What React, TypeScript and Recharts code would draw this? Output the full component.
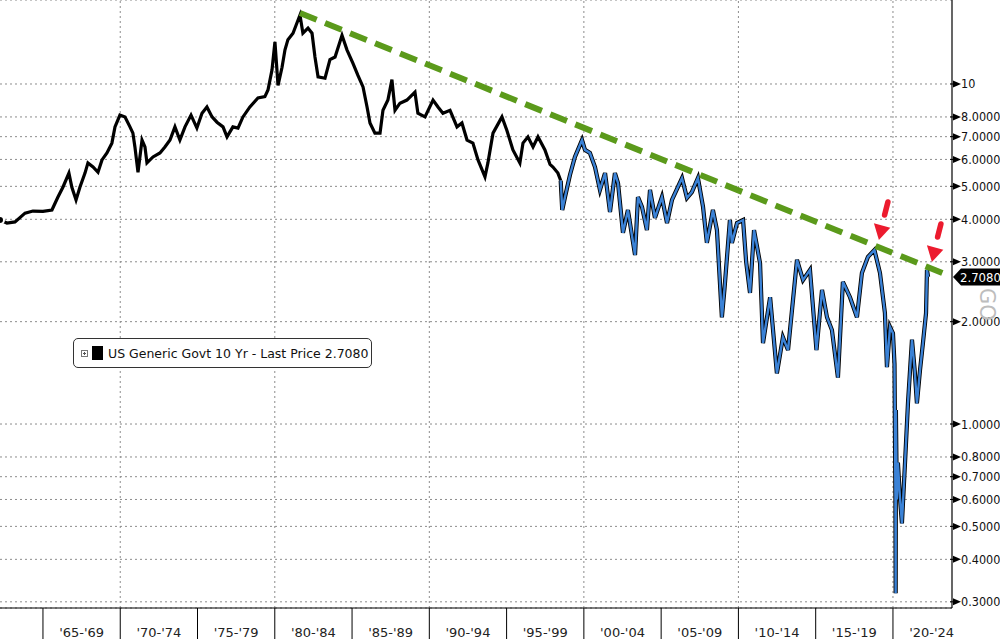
import React from 'react';
import { LineChart, Line, XAxis, YAxis, CartesianGrid, ReferenceLine, ReferenceDot, Legend } from 'recharts';

const years = [
  1962.22, 1962.67, 1963.19, 1963.84, 1964.35, 1965.0, 1965.58, 1965.97, 1966.29, 1966.68,
  1966.87, 1967.14, 1967.39, 1967.72, 1967.91, 1968.24, 1968.56, 1968.82, 1969.14, 1969.46,
  1969.66, 1969.98, 1970.31, 1970.63, 1970.82, 1970.95, 1971.15, 1971.41, 1971.6, 1971.73,
  1972.12, 1972.57, 1972.89, 1973.22, 1973.54, 1973.86, 1974.19, 1974.58, 1974.96, 1975.29,
  1975.61, 1975.94, 1976.26, 1976.65, 1976.91, 1977.29, 1977.62, 1977.94, 1978.39, 1978.91,
  1979.36, 1979.56, 1979.82, 1980.01, 1980.21, 1980.47, 1980.66, 1980.85, 1981.18, 1981.63,
  1981.82, 1982.15, 1982.41, 1982.6, 1982.8, 1983.25, 1983.57, 1983.9, 1984.35, 1984.67,
  1985.06, 1985.38, 1985.71, 1985.97, 1986.16, 1986.48, 1986.81, 1987.0, 1987.32, 1987.58,
  1987.78, 1988.1, 1988.55, 1989.07, 1989.26, 1989.72, 1990.24, 1990.56, 1990.88, 1991.34,
  1991.79, 1992.11, 1992.44, 1992.82, 1993.15, 1993.6, 1993.79, 1994.12, 1994.7, 1995.02,
  1995.41, 1995.86, 1996.06, 1996.38, 1996.71, 1997.03, 1997.48, 1997.81, 1998.0, 1998.32,
  1998.5, 1998.6, 1998.78, 1999.1, 1999.42, 1999.88, 2000.07, 2000.39, 2000.72, 2001.04,
  2001.37, 2001.69, 2002.01, 2002.21, 2002.53, 2002.85, 2003.31, 2003.5, 2003.76, 2004.08,
  2004.28, 2004.6, 2005.05, 2005.38, 2005.7, 2006.35, 2006.67, 2006.99, 2007.38, 2007.71,
  2007.96, 2008.35, 2008.61, 2008.93, 2009.1, 2009.45, 2009.58, 2009.91, 2010.3, 2010.5,
  2010.75, 2011.01, 2011.4, 2011.59, 2012.05, 2012.49, 2012.88, 2013.21, 2013.79, 2014.18,
  2014.63, 2015.05, 2015.41, 2015.73, 2016.05, 2016.44, 2016.76, 2017.22, 2017.67, 2017.99,
  2018.38, 2018.8, 2019.16, 2019.48, 2019.61, 2019.81, 2020.0, 2020.1, 2020.16, 2020.175,
  2020.19, 2020.25, 2020.32, 2020.45, 2020.58, 2020.78, 2020.97, 2021.23, 2021.4, 2021.55,
  2021.75, 2021.94, 2022.14, 2022.2, 2022.27,
];

const yields = [
  3.98, 3.9, 3.93, 4.17, 4.23, 4.22, 4.26, 4.65, 4.97, 5.47,
  4.97, 4.56, 4.97, 5.47, 5.86, 5.7, 5.5, 5.98, 6.27, 6.7,
  7.48, 8.1, 8.0, 7.48, 7.17, 6.53, 5.5, 6.84, 6.53, 5.86,
  6.1, 6.27, 6.53, 6.84, 7.48, 6.84, 7.48, 8.1, 7.42, 8.2,
  8.56, 8.0, 7.72, 7.48, 6.99, 7.48, 7.42, 8.0, 8.56, 9.1,
  9.18, 9.6, 11.0, 13.3, 9.9, 11.2, 12.6, 13.5, 14.1, 15.95,
  14.1, 14.6, 14.1, 12.0, 10.5, 10.4, 11.8, 12.0, 13.9, 12.6,
  11.5, 10.6, 9.8, 8.56, 7.68, 7.17, 7.17, 8.37, 8.97, 10.3,
  8.37, 8.78, 8.97, 9.46, 8.2, 8.0, 8.97, 8.56, 8.2, 8.37,
  7.48, 7.68, 6.84, 6.7, 5.98, 5.33, 5.86, 7.17, 8.0, 7.3,
  6.4, 5.86, 6.7, 6.99, 6.53, 6.99, 6.4, 5.8, 5.7, 5.47,
  5.2, 4.26, 4.65, 5.4, 6.1, 6.84, 6.4, 6.27, 5.7, 4.88,
  5.47, 4.2, 5.47, 5.11, 3.65, 4.26, 3.14, 4.65, 4.35, 3.72,
  4.88, 4.04, 4.65, 3.9, 4.56, 5.29, 4.62, 4.81, 5.29, 4.35,
  3.41, 4.26, 3.72, 2.06, 2.5, 3.98, 3.41, 3.9, 3.98, 3.0,
  2.43, 3.72, 2.97, 1.73, 2.36, 1.41, 1.8, 1.65, 3.04, 2.65,
  2.84, 1.65, 2.48, 2.06, 1.89, 1.37, 2.62, 2.36, 2.06, 2.78,
  3.1, 3.25, 2.78, 2.12, 1.47, 1.93, 1.85, 1.5, 0.6, 0.318,
  1.1, 0.6, 0.77, 0.61, 0.51, 0.77, 1.15, 1.77, 1.45, 1.15,
  1.44, 1.73, 2.12, 2.84, 2.708,
];

const BLUE_START = 1998.5;

const boundaryYears = [1965, 1970, 1975, 1980, 1985, 1990, 1995, 2000, 2005, 2010, 2015, 2020];
const bucketLabels = ["'65-'69", "'70-'74", "'75-'79", "'80-'84", "'85-'89", "'90-'94", "'95-'99", "'00-'04", "'05-'09", "'10-'14", "'15-'19", "'20-'24"];
const labelYears = boundaryYears.map((y) => y + 2.5);
const gridYears = [1970, 1980, 1990, 2000, 2010, 2020];
const yTicks = [0.3, 0.4, 0.5, 0.6, 0.7, 0.8, 1, 2, 3, 4, 5, 6, 7, 8, 10];

const lastPrice = 2.708;
const legendText = 'US Generic Govt 10 Yr - Last Price 2.7080';
const trendStart = { x: 1981.63, y: 16.18 };
const trendEnd = { x: 2023.25, y: 2.775 };
const arrowTips = [
  { x: 2019.09, y: 3.476 },
  { x: 2022.52, y: 2.995 },
];

const X_DOMAIN: [number, number] = [1962.22, 2023.82];
const Y_DOMAIN: [number, number] = [0.2877, 17.66];

const data = years.map((t, i) => ({
  t,
  pre: t <= BLUE_START ? yields[i] : null,
  post: t >= BLUE_START ? yields[i] : null,
}));

const xTicks = [...boundaryYears, ...labelYears].sort((a, b) => a - b);

const FONT = 'DejaVu Sans';
const NARROW = "'DejaVu Sans Condensed', 'Liberation Sans', sans-serif";

const XTick = (props: any) => {
  const { x, y, payload } = props;
  const v = payload.value;
  const bi = boundaryYears.indexOf(v);
  if (bi >= 0) {
    return <line x1={x} y1={y} x2={x} y2={y + 31} stroke="#000" strokeWidth={1} />;
  }
  const li = labelYears.indexOf(v);
  return (
    <text x={x} y={y + 29} textAnchor="middle" fontSize={13} fontFamily={FONT} fill="#222">
      {bucketLabels[li]}
    </text>
  );
};

const YTick = (props: any) => {
  const { x, y, payload } = props;
  const v = payload.value;
  return (
    <g>
      <line x1={x - 2} y1={y} x2={x + 2} y2={y} stroke="#000" strokeWidth={1} />
      <polygon points={`${x + 1},${y - 3.5} ${x + 9},${y} ${x + 1},${y + 3.5}`} fill="#000" />
      <text x={x + 9} y={y} dy="0.36em" fontSize={12.5} fontFamily={NARROW} fill="#111">
        {v === 10 ? '10' : v.toFixed(4)}
      </text>
    </g>
  );
};

const Arrow = (props: any) => {
  const { cx, cy } = props;
  const red = '#ec1b2e';
  return (
    <g>
      <line x1={cx + 9} y1={cy - 38} x2={cx + 5.7} y2={cy - 25} stroke={red} strokeWidth={5.5} strokeLinecap="round" />
      <polygon points={`${cx - 5},${cy - 16.7} ${cx + 11.4},${cy - 12.3} ${cx},${cy}`} fill={red} />
    </g>
  );
};

const PriceTag = (props: any) => {
  const { cx, cy } = props;
  const l = cx + 1;
  return (
    <g>
      <polygon
        points={`${l},${cy} ${l + 8},${cy - 8.5} ${l + 60},${cy - 8.5} ${l + 60},${cy + 8.5} ${l + 8},${cy + 8.5}`}
        fill="#000"
      />
      <text x={l + 7} y={cy} dy="0.36em" fontSize={13} fontFamily={NARROW} fill="#fff">
        {lastPrice.toFixed(4)}
      </text>
    </g>
  );
};

const LegendBox = () => (
  <div
    style={{
      boxSizing: 'border-box',
      width: 299,
      height: 30,
      border: '1px solid #333',
      borderRadius: 5,
      background: '#fff',
      display: 'flex',
      alignItems: 'center',
      fontFamily: FONT,
      fontSize: 12.5,
      color: '#111',
      paddingLeft: 7,
      whiteSpace: 'nowrap',
    }}
  >
    <svg width={7} height={7} style={{ marginRight: 4 }}>
      <rect x={0.5} y={0.5} width={6} height={6} fill="#fff" stroke="#777" strokeWidth={1} />
      <line x1={2} y1={3.5} x2={5} y2={3.5} stroke="#555" />
      <line x1={3.5} y1={2} x2={3.5} y2={5} stroke="#555" />
    </svg>
    <span style={{ display: 'inline-block', width: 11, height: 14, background: '#000', marginRight: 5 }} />
    <span>{legendText}</span>
  </div>
);

export default function App() {
  return (
    <div style={{ position: 'absolute', left: 0, top: 0, width: 1000, height: 639, background: '#fff', overflow: 'hidden' }}>
      <LineChart width={1000} height={639} data={data} margin={{ top: 0, right: 0, bottom: 0, left: 0 }}>
        <CartesianGrid vertical={false} stroke="#8c8c8c" strokeDasharray="2 3" />
        <XAxis
          dataKey="t"
          type="number"
          domain={X_DOMAIN}
          allowDataOverflow
          ticks={xTicks}
          interval={0}
          tick={<XTick />}
          tickLine={false}
          tickSize={0}
          tickMargin={0}
          height={31}
          axisLine={{ stroke: '#000', strokeWidth: 1.2 }}
        />
        <YAxis
          orientation="right"
          scale="log"
          type="number"
          domain={Y_DOMAIN}
          allowDataOverflow
          ticks={yTicks}
          interval={0}
          tick={<YTick />}
          tickLine={false}
          tickSize={0}
          tickMargin={0}
          width={48}
          axisLine={{ stroke: '#000', strokeWidth: 1.2 }}
        />
        {gridYears.map((g) => (
          <ReferenceLine key={g} x={g} stroke="#8c8c8c" strokeDasharray="2 3" />
        ))}
        <Line dataKey="pre" type="linear" stroke="#000" strokeWidth={3.2} dot={false} isAnimationActive={false} />
        <Line dataKey="post" type="linear" stroke="#000" strokeWidth={4.2} dot={false} isAnimationActive={false} />
        <Line dataKey="post" type="linear" stroke="#3b82d6" strokeWidth={2.4} dot={false} isAnimationActive={false} />
        <ReferenceLine
          segment={[trendStart, trendEnd]}
          stroke="#5b9a1b"
          strokeWidth={6}
          strokeDasharray="18 9"
          ifOverflow="visible"
        />
        {arrowTips.map((a, i) => (
          <ReferenceDot key={i} x={a.x} y={a.y} r={1} ifOverflow="visible" shape={<Arrow />} />
        ))}
        <ReferenceDot x={X_DOMAIN[1]} y={lastPrice} r={1} ifOverflow="visible" shape={<PriceTag />} />
        <Legend
          layout="horizontal"
          verticalAlign="middle"
          align="center"
          content={() => <LegendBox />}
          wrapperStyle={{ left: 73, top: 338, width: 299, height: 30 }}
        />
      </LineChart>
      <div
        style={{
          position: 'absolute',
          left: 975,
          top: 288,
          width: 24,
          textAlign: 'center',
          transform: 'rotate(90deg)',
          transformOrigin: 'center',
          fontFamily: FONT,
          fontSize: 21,
          color: '#bdbdbd',
          lineHeight: '24px',
        }}
      >
        GO
      </div>
    </div>
  );
}
